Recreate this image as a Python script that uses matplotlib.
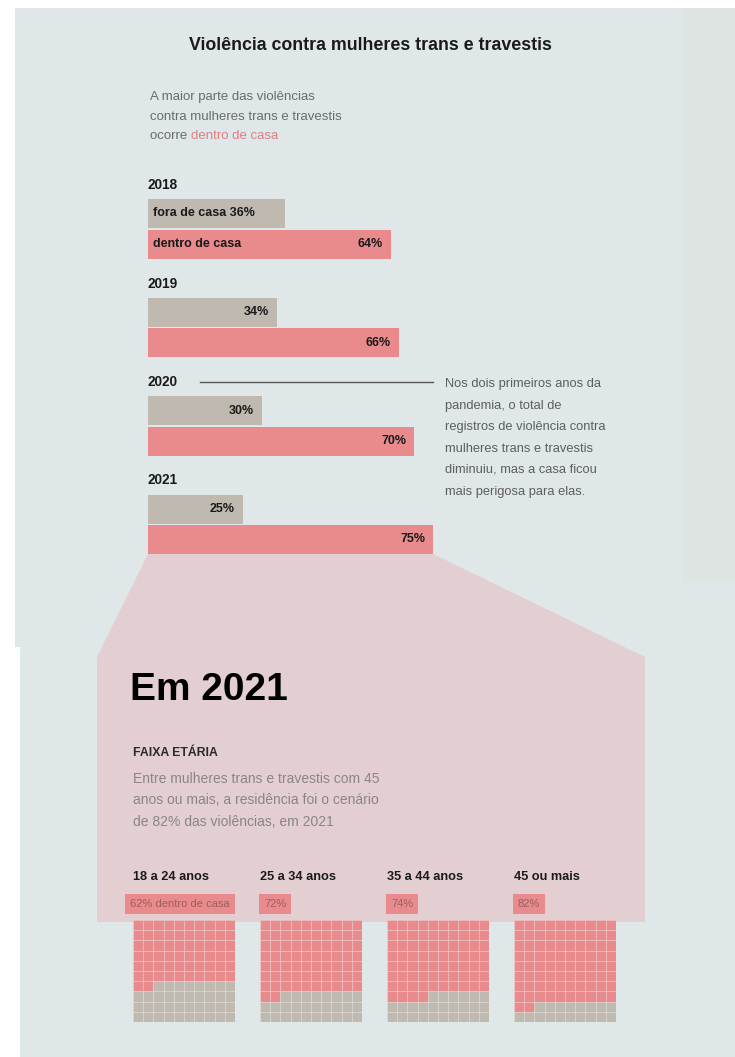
import matplotlib
matplotlib.use("Agg")
import matplotlib.pyplot as plt
from matplotlib.patches import Rectangle, Polygon
from matplotlib import font_manager

# ---- data ----
years = ["2018", "2019", "2020", "2021"]
fora_de_casa = [36, 34, 30, 25]
dentro_de_casa = [64, 66, 70, 75]

faixas = ["18 a 24 anos", "25 a 34 anos", "35 a 44 anos", "45 ou mais"]
faixa_dentro = [62, 72, 74, 82]

title = "Violência contra mulheres trans e travestis"
subtitle = ["A maior parte das violências", "contra mulheres trans e travestis", "ocorre "]
subtitle_hl = "dentro de casa"
note = ["Nos dois primeiros anos da", "pandemia, o total de",
        "registros de violência contra", "mulheres trans e travestis",
        "diminuiu, mas a casa ficou", "mais perigosa para elas."]
faixa_text = ["Entre mulheres trans e travestis com 45",
              "anos ou mais, a residência foi o cenário",
              "de 82% das violências, em 2021"]

# ---- style ----
W, H = 735, 1057
BG = "#dfe7e8"
STRIP = "#dde4e1"
PINK_BG = "#e3cfd1"
PINK = "#e98b8d"
GRAY = "#bfb9b0"

names = {f.name for f in font_manager.fontManager.ttflist}
FONT = [f for f in ["Liberation Sans", "Roboto", "DejaVu Sans"] if f in names]
plt.rcParams["font.family"] = FONT


def frac(x0, y0, x1, y1):
    # pixel box (top-left origin) -> figure fraction rect
    return [x0 / W, 1 - y1 / H, (x1 - x0) / W, (y1 - y0) / H]


fig = plt.figure(figsize=(W / 100, H / 100), dpi=100, facecolor="white")
bg = fig.add_axes([0, 0, 1, 1])
bg.set_xlim(0, W)
bg.set_ylim(H, 0)
bg.axis("off")

# panels
bg.add_patch(Rectangle((15, 8), W - 15, 647 - 8, color=BG, lw=0))
bg.add_patch(Rectangle((683, 8), W - 683, 583 - 8, color=STRIP, lw=0))
bg.add_patch(Rectangle((20, 647), W - 20, H - 647, color=BG, lw=0))

# bar chart geometry
BAR_X0, PX_PER_PCT = 148, 3.8
BAR_H, STEP, TOP0 = 29, 98.5, 199
gray_c = [TOP0 + BAR_H / 2 + i * STEP for i in range(len(years))]
pink_c = [c + BAR_H + 1.5 for c in gray_c]

# zoom trapezoid from the last bar to the 2021 panel
x_end = BAR_X0 + PX_PER_PCT * dentro_de_casa[-1]
y_top = pink_c[-1] + BAR_H / 2
bg.add_patch(Polygon([(BAR_X0, y_top), (x_end, y_top), (645, 657), (645, 922),
                      (97, 922), (97, 657)], closed=True, color=PINK_BG, lw=0))

# title + subtitle
bg.text(370, 45, title, ha="center", va="center", fontsize=12.8,
        fontweight="bold", color="#1a1a1a")
for i, line in enumerate(subtitle):
    t = bg.text(150, 97 + i * 19.5, line, ha="left", va="center",
                fontsize=9.5, color="#6b6b6b")
fig.canvas.draw()
bb = t.get_window_extent(fig.canvas.get_renderer())
bg.text(bb.x1, 97 + 2 * 19.5, subtitle_hl, ha="left", va="center",
        fontsize=9.5, color="#e07f82")

# bars
ax = fig.add_axes(frac(BAR_X0, 170, BAR_X0 + PX_PER_PCT * 100, 570))
ax.set_xlim(0, 100)
ax.set_ylim(570, 170)
ax.axis("off")
ax.patch.set_alpha(0)
ax.barh(gray_c, fora_de_casa, height=BAR_H, left=0, color=GRAY, lw=0)
ax.barh(pink_c, dentro_de_casa, height=BAR_H, left=0, color=PINK, lw=0)
LBL = dict(va="center", fontsize=9, fontweight="bold", color="#1a1a1a")
for i, yr in enumerate(years):
    ax.text(0, gray_c[i] - BAR_H / 2 - 14, yr, ha="left", va="center",
            fontsize=9.8, fontweight="bold", color="#1a1a1a")
    if i == 0:
        ax.text(1.3, gray_c[i], f"fora de casa {fora_de_casa[i]}%", ha="left", **LBL)
        ax.text(1.3, pink_c[i], "dentro de casa", ha="left", **LBL)
    else:
        ax.text(fora_de_casa[i] - 2.1, gray_c[i], f"{fora_de_casa[i]}%",
                ha="right", **LBL)
    ax.text(dentro_de_casa[i] - 2.1, pink_c[i], f"{dentro_de_casa[i]}%",
            ha="right", **LBL)

# annotation on 2020
y20 = gray_c[2] - BAR_H / 2 - 14
bg.plot([200, 433], [y20, y20], color="#555555", lw=1)
for i, line in enumerate(note):
    bg.text(445, y20 + 2 + i * 21.5, line, ha="left", va="center",
            fontsize=9.3, color="#5e5e5e")

# Em 2021 block
bg.text(130, 690, "Em 2021", ha="left", va="center", fontsize=28,
        fontweight="bold", color="black")
bg.text(133, 753, "FAIXA ETÁRIA", ha="left", va="center", fontsize=8.8,
        fontweight="bold", color="#2a2a2a")
for i, line in enumerate(faixa_text):
    bg.text(133, 779 + i * 21.5, line, ha="left", va="center",
            fontsize=10, color="#8a8585")

# waffles
GX0, GSTEP, GY0, GSIZE = 133, 127, 920, 102
for k, (name, pct) in enumerate(zip(faixas, faixa_dentro)):
    x0 = GX0 + k * GSTEP
    bg.text(x0, 877, name, ha="left", va="center", fontsize=9.2,
            fontweight="bold", color="#1a1a1a")
    lab = f"{pct}% dentro de casa" if k == 0 else f"{pct}%"
    bg.text(x0 + (-3 if k == 0 else 4), 904, lab, ha="left", va="center",
            fontsize=8, color="#9a5e5f",
            bbox=dict(boxstyle="square,pad=0.45", fc=PINK, ec="none"))
    wax = fig.add_axes(frac(x0, GY0, x0 + GSIZE, GY0 + GSIZE))
    wax.set_xlim(0, 10)
    wax.set_ylim(10, 0)
    wax.axis("off")
    for c in range(100):
        r, col = divmod(c, 10)
        wax.add_patch(Rectangle((col, r), 1, 1,
                                facecolor=PINK if c < pct else GRAY,
                                edgecolor=(1, 1, 1, 0.22), lw=0.6))

fig.savefig("out.png", dpi=100, facecolor="white")
